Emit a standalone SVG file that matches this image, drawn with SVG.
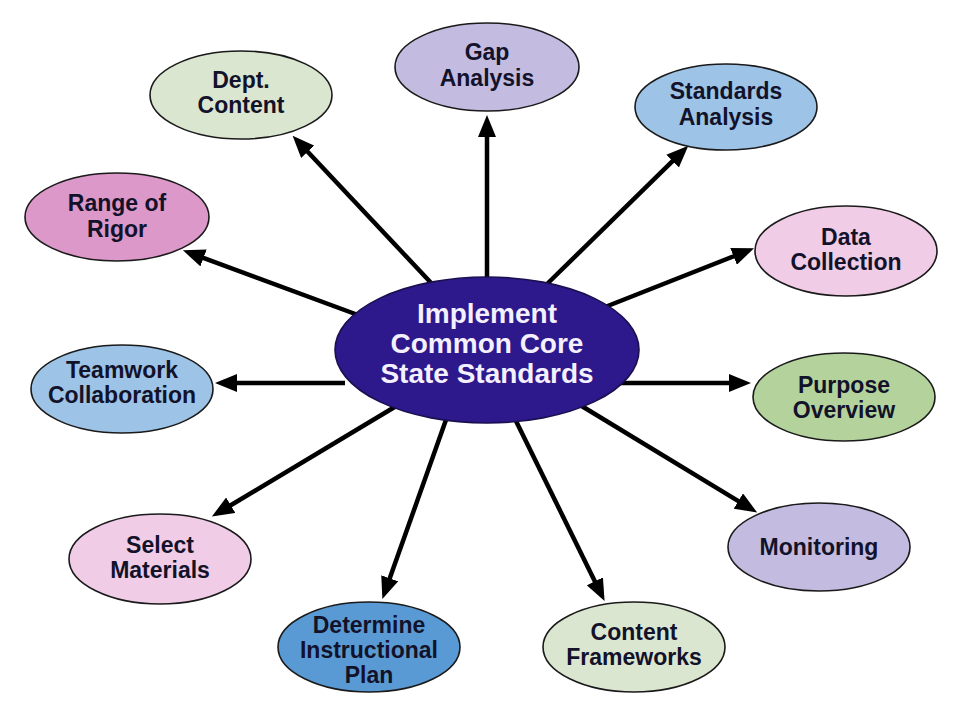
<svg xmlns="http://www.w3.org/2000/svg" width="960" height="720" viewBox="0 0 960 720">
<style>
.node{stroke:#1a1a1a;stroke-width:1.6}
.lbl{font-family:"Liberation Sans",Arial,sans-serif;font-weight:bold;font-size:23px;fill:#12122a;text-anchor:middle}
.ctr{font-family:"Liberation Sans",Arial,sans-serif;font-weight:bold;font-size:28px;fill:#f4f0ff;text-anchor:middle}
.conn line{stroke:#000;stroke-width:4.5;marker-end:url(#ah)}
</style>
<defs>
<marker id="ah" markerUnits="userSpaceOnUse" viewBox="0 -9 22 18" refX="1" refY="0" markerWidth="22" markerHeight="18" orient="auto">
<path d="M0,-9 L22,0 L0,9 z" fill="#000"/>
</marker>
</defs>
<rect width="960" height="720" fill="#fff"/>
<g id="connectors" class="conn">
<line x1="487" y1="290" x2="487" y2="136"/>
<line x1="545" y1="286" x2="673.3" y2="160.4"/>
<line x1="600" y1="309" x2="734.5" y2="256"/>
<line x1="620" y1="383" x2="730" y2="383"/>
<line x1="580" y1="405" x2="739.2" y2="501.6"/>
<line x1="515" y1="419" x2="595.3" y2="582.2"/>
<line x1="447" y1="417" x2="389.4" y2="579.3"/>
<line x1="398" y1="405" x2="229.9" y2="505.7"/>
<line x1="345" y1="383" x2="236" y2="383"/>
<line x1="358" y1="315" x2="202.6" y2="257.6"/>
<line x1="434" y1="286" x2="307" y2="151"/>
</g>
<g id="center">
<ellipse cx="487" cy="350" rx="152" ry="73" fill="#2d188c" stroke="#1a1050" stroke-width="1.6"/>
<text class="ctr" x="487" y="323">Implement</text>
<text class="ctr" x="487" y="353">Common Core</text>
<text class="ctr" x="487" y="383">State Standards</text>
</g>
<g id="gap">
<ellipse class="node" cx="487" cy="67" rx="92" ry="44" fill="#c3bbe0"/>
<text class="lbl" x="487" y="60">Gap</text>
<text class="lbl" x="487" y="86">Analysis</text>
</g>
<g id="standards">
<ellipse class="node" cx="726" cy="107" rx="91" ry="43" fill="#9dc3e6"/>
<text class="lbl" x="726" y="99">Standards</text>
<text class="lbl" x="726" y="125">Analysis</text>
</g>
<g id="dept">
<ellipse class="node" cx="241" cy="95" rx="91" ry="44" fill="#dbe6d0"/>
<text class="lbl" x="241" y="88">Dept.</text>
<text class="lbl" x="241" y="113">Content</text>
</g>
<g id="range">
<ellipse class="node" cx="117" cy="217" rx="92" ry="44" fill="#dc98c8"/>
<text class="lbl" x="117" y="211">Range of</text>
<text class="lbl" x="117" y="237">Rigor</text>
</g>
<g id="data">
<ellipse class="node" cx="846" cy="251" rx="91" ry="45" fill="#f0cce6"/>
<text class="lbl" x="846" y="245">Data</text>
<text class="lbl" x="846" y="270">Collection</text>
</g>
<g id="teamwork">
<ellipse class="node" cx="122" cy="389" rx="91" ry="44" fill="#9dc3e6"/>
<text class="lbl" x="122" y="378">Teamwork</text>
<text class="lbl" x="122" y="403">Collaboration</text>
</g>
<g id="purpose">
<ellipse class="node" cx="844" cy="397" rx="91" ry="44" fill="#b4d39c"/>
<text class="lbl" x="844" y="393">Purpose</text>
<text class="lbl" x="844" y="418">Overview</text>
</g>
<g id="select">
<ellipse class="node" cx="160" cy="559" rx="91" ry="45" fill="#f0cce6"/>
<text class="lbl" x="160" y="553">Select</text>
<text class="lbl" x="160" y="578">Materials</text>
</g>
<g id="monitoring">
<ellipse class="node" cx="819" cy="547" rx="91" ry="44" fill="#c3bbe0"/>
<text class="lbl" x="819" y="555">Monitoring</text>
</g>
<g id="determine">
<ellipse class="node" cx="369" cy="647" rx="91" ry="45" fill="#5a9ad4"/>
<text class="lbl" x="369" y="633">Determine</text>
<text class="lbl" x="369" y="658">Instructional</text>
<text class="lbl" x="369" y="683">Plan</text>
</g>
<g id="content">
<ellipse class="node" cx="634" cy="647" rx="91" ry="45" fill="#dbe6d0"/>
<text class="lbl" x="634" y="640">Content</text>
<text class="lbl" x="634" y="665">Frameworks</text>
</g>
</svg>
